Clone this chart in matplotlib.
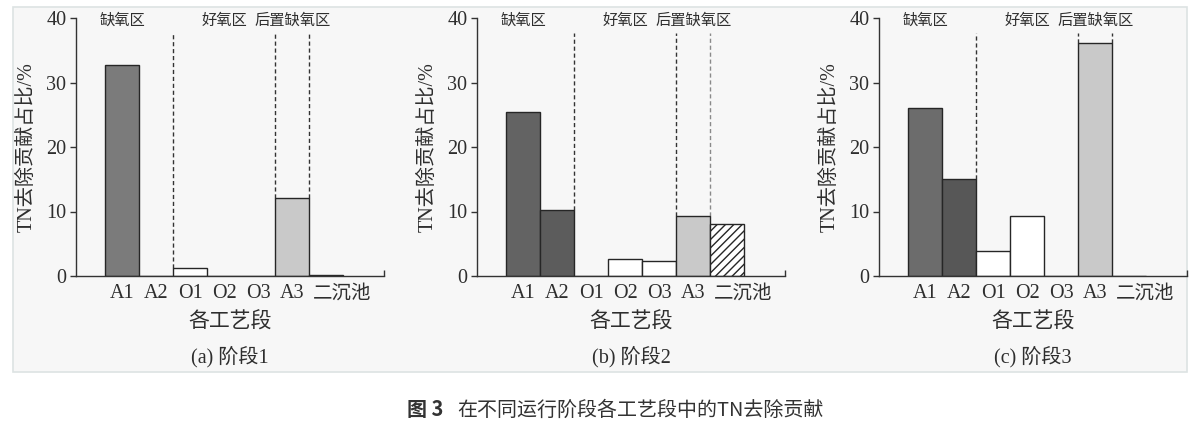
import matplotlib
matplotlib.use("Agg")
import matplotlib.pyplot as plt
from matplotlib.patches import Rectangle
from matplotlib.transforms import ScaledTranslation

plt.rcParams['font.family'] = ['Liberation Serif', 'Noto Sans CJK SC', 'DejaVu Sans']
plt.rcParams['hatch.linewidth'] = 1.0

categories = ['A1', 'A2', 'O1', 'O2', 'O3', 'A3', '二沉池']
stage1 = [32.7, 0, 1.2, 0, 0, 12.1, 0.1]
stage2 = [25.4, 10.3, 0, 2.6, 2.3, 9.25, 8.0]
stage3 = [26.0, 15.0, 3.8, 9.3, 0, 36.2, 0]
stages = [stage1, stage2, stage3]
panel_titles = ['(a) 阶段1', '(b) 阶段2', '(c) 阶段3']
zone_names = ['缺氧区', '好氧区', '后置缺氧区']
zone_pos = [0, 3, 5]
boundaries = [1.5, 4.5, 5.5]
yticks = [0, 10, 20, 30, 40]
ylabel = 'TN去除贡献占比/%'
xlabel = '各工艺段'
caption_bold = '图 3'
caption_text = '在不同运行阶段各工艺段中的TN去除贡献'

# styling (colors per panel)
bar_colors = [
    ['#7b7b7b', '#7b7b7b', 'white', 'white', 'white', '#c9c9c9', '#555555'],
    ['#636363', '#5c5c5c', 'white', 'white', 'white', '#c9c9c9', 'white'],
    ['#6c6c6c', '#575757', 'white', 'white', 'white', '#c9c9c9', 'white'],
]
bar_hatch = [
    [None] * 7,
    [None] * 6 + ['////'],
    [None] * 7,
]
line_colors = [
    ['#333333', '#333333', '#333333'],
    ['#333333', '#333333', '#8a8a8a'],
    ['#333333', '#333333', '#333333'],
]

W, H = 1202, 425
fig = plt.figure(figsize=(W / 100, H / 100), dpi=100)
fig.patch.set_facecolor('white')
bg = Rectangle((13 / W, 1 - 372 / H), (1187 - 13) / W, (372 - 7) / H,
               transform=fig.transFigure, facecolor='#f7f7f7',
               edgecolor='#dde3e3', linewidth=1.2, zorder=-10)
fig.add_artist(bg)

lefts = [76, 477, 879]
ax_w = 308
ax_bottom, ax_top = 276, 18
text_color = '#2e2e2e'
x = list(range(len(categories)))

for i, ax_left in enumerate(lefts):
    ax = fig.add_axes([ax_left / W, 1 - ax_bottom / H, ax_w / W, (ax_bottom - ax_top) / H])
    ax.set_facecolor('none')
    ax.set_zorder(1)
    vals = stages[i]
    for j, v in enumerate(vals):
        ax.bar(x[j], v, width=1.0, color=bar_colors[i][j], edgecolor='#262626',
               linewidth=1.0, hatch=bar_hatch[i][j], zorder=2)
    ax.set_xlim(-1.36, 7.7)
    ax.set_ylim(0, 40)
    for k, b in enumerate(boundaries):
        lo = max(vals[int(b - 0.5)], vals[int(b + 0.5)])
        ax.vlines(b, lo, 37.6, colors=line_colors[i][k], linestyles=(0, (3, 2)),
                  linewidth=1.0, zorder=1)
    for name, p in zip(zone_names, zone_pos):
        ax.text(p, 39.6, name, ha='center', va='center', fontsize=11,
                color=text_color, family=['Noto Sans CJK SC'])
    ax.spines['top'].set_visible(False)
    ax.spines['right'].set_visible(False)
    for s in ['left', 'bottom']:
        ax.spines[s].set_color('#333333')
        ax.spines[s].set_linewidth(1.0)
    ax.set_yticks(yticks)
    ax.set_xticks(x)
    ax.set_xticklabels(categories)
    ax.set_xticks([7.7], minor=True)
    ax.tick_params(axis='x', which='minor', direction='in', length=4, width=1, color='#333333')
    ax.tick_params(axis='x', which='major', length=0, pad=6, labelsize=14.5, labelcolor=text_color)
    ax.tick_params(axis='y', direction='out', length=4, width=1, color='#333333',
                   labelsize=14.5, labelcolor=text_color, pad=3)
    lab = ax.get_xticklabels()[-1]
    lab.set_fontsize(14)
    lab.set_transform(lab.get_transform() + ScaledTranslation(16 / 100, 0, fig.dpi_scale_trans))
    ax.set_ylabel(ylabel, fontsize=14.5, color=text_color)
    ax.yaxis.label.set_va('center')
    ax.yaxis.set_label_coords(-49 / ax_w, 0.5)
    ax.text(0.5, -0.182, xlabel, transform=ax.transAxes, ha='center', va='center',
            fontsize=15, color=text_color)
    ax.text(0.5, -0.314, panel_titles[i], transform=ax.transAxes, ha='center', va='center',
            fontsize=14.5, color=text_color)

fig.text(407 / W, 1 - 410 / H, caption_bold, ha='left', va='center', fontsize=14.4,
         fontweight='bold', color='#333333', family=['Noto Sans CJK SC'])
fig.text(457 / W, 1 - 410 / H, caption_text, ha='left', va='center', fontsize=14.4,
         color='#333333', family=['Noto Sans CJK SC'])

fig.savefig('out.png', dpi=100)
